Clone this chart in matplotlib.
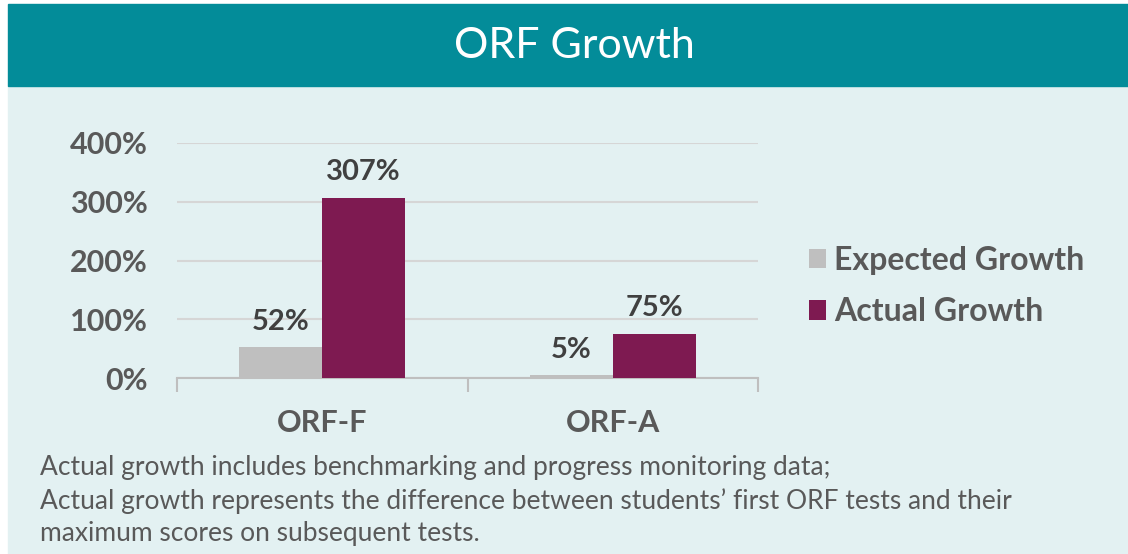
import matplotlib
matplotlib.use("Agg")
import matplotlib.pyplot as plt
from matplotlib.patches import Rectangle

categories = ["ORF-F", "ORF-A"]
expected = [52, 5]
actual = [307, 75]
series_names = ["Expected Growth", "Actual Growth"]
y_ticks = [0, 100, 200, 300, 400]
title = "ORF Growth"
footnote = ("Actual growth includes benchmarking and progress monitoring data;\n"
            "Actual growth represents the difference between students\u2019 first ORF tests and their\n"
            "maximum scores on subsequent tests.")

TEAL = "#038C99"
BG = "#E3F1F2"
GRAY = "#BFBFBF"
MAROON = "#7E1A51"
TXT = "#595959"
DARK = "#404040"

plt.rcParams["font.family"] = ["Lato", "DejaVu Sans"]

W, H = 1128, 554
fig = plt.figure(figsize=(W / 100, H / 100), dpi=100)
fig.patch.set_facecolor("white")

# background panels
fig.add_artist(Rectangle((8 / W, 0), 1 - 8 / W, (H - 86) / H,
                         transform=fig.transFigure, color=BG, zorder=0))
fig.add_artist(Rectangle((8 / W, (H - 86) / H), 1 - 8 / W, 82 / H,
                         transform=fig.transFigure, color=TEAL, zorder=0))
fig.text(574 / W, (H - 46) / H, title, color="white", fontsize=31,
         ha="center", va="center")

ax = fig.add_axes([177 / W, (H - 378) / H, (758 - 177) / W, (378 - 143) / H])
ax.set_facecolor("none")

x = list(range(len(categories)))
bw = 0.286
b1 = ax.bar([i - bw / 2 for i in x], expected, bw, color=GRAY, label=series_names[0], zorder=3)
b2 = ax.bar([i + bw / 2 for i in x], actual, bw, color=MAROON, label=series_names[1], zorder=3)
for bars, vals in ((b1, expected), (b2, actual)):
    ax.bar_label(bars, labels=[f"{v}%" for v in vals], padding=9,
                 fontsize=21, fontweight="bold", color=DARK)

ax.set_xlim(-0.5, len(categories) - 0.5)
ax.set_ylim(0, 400)
ax.set_yticks(y_ticks)
ax.set_yticklabels([f"{v}%" for v in y_ticks], fontsize=22, fontweight="bold", color=TXT)
ax.yaxis.grid(True, color="#D6D6D6", linewidth=1.5, zorder=0)
ax.tick_params(axis="y", length=0, pad=21)

ax.set_xticks([i + 0.5 for i in range(-1, len(categories))], minor=True)
ax.set_xticks(x)
ax.set_xticklabels(categories, fontsize=22, fontweight="bold", color=TXT)
ax.tick_params(axis="x", which="major", length=0, pad=22)
ax.tick_params(axis="x", which="minor", length=10, color="#BFBFBF", width=1.5)

for s in ("top", "right", "left"):
    ax.spines[s].set_visible(False)
ax.spines["bottom"].set_color("#BFBFBF")
ax.spines["bottom"].set_linewidth(1.5)

leg = ax.legend(loc="center left", bbox_to_anchor=(796 / W, (H - 286) / H),
                bbox_transform=fig.transFigure, frameon=False, fontsize=23,
                handlelength=0.55, handleheight=0.55, handletextpad=0.25,
                labelspacing=0.7, borderaxespad=0)
for t in leg.get_texts():
    t.set_color(TXT)
    t.set_fontweight("bold")

fig.text(40 / W, (H - 455) / H, footnote, fontsize=19, color=TXT,
         ha="left", va="top", linespacing=1.37)

fig.savefig("out.png", dpi=100, facecolor=fig.get_facecolor())
